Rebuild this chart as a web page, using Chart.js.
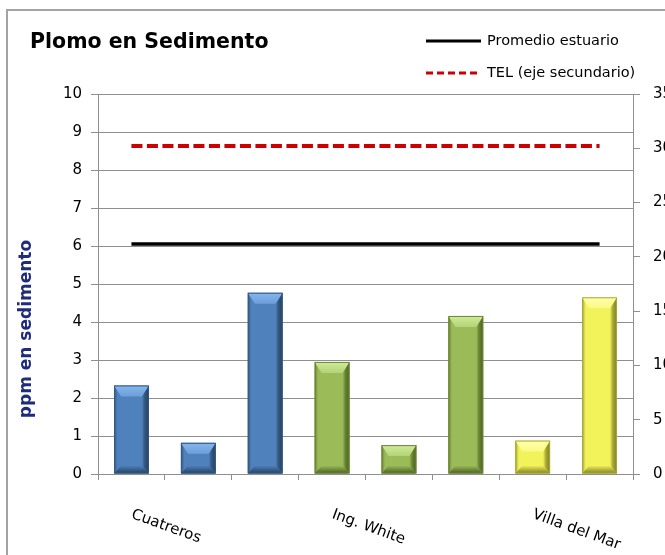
<!DOCTYPE html>
<html>
<head>
<meta charset="utf-8">
<script src="https://cdn.jsdelivr.net/npm/chart.js@4"></script>
<style>
  html, body { margin: 0; padding: 0; background: #fff; overflow: hidden; width: 665px; height: 555px; }
  #frame { position: absolute; left: 6px; top: 9px; border-left: 2px solid #a3a3a3; border-top: 2px solid #a3a3a3; }
  canvas { display: block; }
</style>
</head>
<body>
<div id="frame"><canvas id="myChart" width="700" height="560"></canvas></div>
<script>
// data
const categories = ['Cuatreros', '', '', 'Ing. White', '', '', 'Villa del Mar', ''];
const plomo = [2.33, 0.82, 4.77, 2.95, 0.76, 4.16, 0.88, 4.65];
const sitios = ['Cuatreros', 'Cuatreros', 'Cuatreros', 'Ing. White', 'Ing. White', 'Ing. White', 'Villa del Mar', 'Villa del Mar'];
const promedioEstuario = [6.05, 6.05, 6.05, 6.05, 6.05, 6.05, 6.05, 6.05];
const telSecundario = [30.2, 30.2, 30.2, 30.2, 30.2, 30.2, 30.2, 30.2];
const yTicks = [0, 1, 2, 3, 4, 5, 6, 7, 8, 9, 10];
const y1Ticks = [0, 5, 10, 15, 20, 25, 30, 35];

const FONT = 'DejaVu Sans';

const palette = {
  'Cuatreros':     { main: '#4F81BD', light: '#86B6EE', mid: '#6C9ED9', dark: '#24405F', edge: '#35587F' },
  'Ing. White':    { main: '#9BBB59', light: '#CFEC9A', mid: '#B3D375', dark: '#4A5E22', edge: '#6A8434' },
  'Villa del Mar': { main: '#F2F25A', light: '#FFFFAE', mid: '#FAFA82', dark: '#7E7E26', edge: '#A8A838' }
};

// bevel look on the bars
const bevelPlugin = {
  id: 'bevel',
  afterDatasetDraw(chart, args) {
    if (args.index !== 2) return;
    const ctx = chart.ctx;
    args.meta.data.forEach((bar, i) => {
      const c = palette[sitios[i]];
      const p = bar.getProps(['x', 'y', 'base', 'width'], true);
      const l = p.x - p.width / 2, r = p.x + p.width / 2, t = p.y, b = p.base;
      const h = b - t;
      const sv = 7;
      const tv = Math.min(11, h * 0.4), bv = Math.min(8, h * 0.3);
      ctx.save();
      // right side
      let g = ctx.createLinearGradient(r - sv, 0, r, 0);
      g.addColorStop(0, c.main); g.addColorStop(0.4, c.edge); g.addColorStop(1, c.dark);
      ctx.fillStyle = g;
      ctx.beginPath();
      ctx.moveTo(r, t); ctx.lineTo(r, b); ctx.lineTo(r - sv, b - bv); ctx.lineTo(r - sv, t + tv); ctx.closePath();
      ctx.fill();
      // left side
      g = ctx.createLinearGradient(l, 0, l + sv, 0);
      g.addColorStop(0, c.edge); g.addColorStop(0.5, c.main); g.addColorStop(1, c.main);
      ctx.fillStyle = g;
      ctx.beginPath();
      ctx.moveTo(l, t); ctx.lineTo(l + sv, t + tv); ctx.lineTo(l + sv, b - bv); ctx.lineTo(l, b); ctx.closePath();
      ctx.fill();
      // bottom
      g = ctx.createLinearGradient(0, b - bv, 0, b);
      g.addColorStop(0, c.main); g.addColorStop(1, c.dark);
      ctx.fillStyle = g;
      ctx.beginPath();
      ctx.moveTo(l, b); ctx.lineTo(r, b); ctx.lineTo(r - sv, b - bv); ctx.lineTo(l + sv, b - bv); ctx.closePath();
      ctx.fill();
      // top
      g = ctx.createLinearGradient(0, t, 0, t + tv);
      g.addColorStop(0, c.light); g.addColorStop(1, c.mid);
      ctx.fillStyle = g;
      ctx.beginPath();
      ctx.moveTo(l, t); ctx.lineTo(r, t); ctx.lineTo(r - sv, t + tv); ctx.lineTo(l + sv, t + tv); ctx.closePath();
      ctx.fill();
      // thin outline
      ctx.strokeStyle = c.edge;
      ctx.lineWidth = 1;
      ctx.strokeRect(l + 0.5, t + 0.5, r - l - 1, b - t - 1);
      ctx.restore();
    });
  }
};

// title, legend, axis title and slanted category labels
const textPlugin = {
  id: 'texts',
  afterDraw(chart) {
    const ctx = chart.ctx;
    const xs = chart.scales.x;
    ctx.save();
    ctx.fillStyle = '#000';
    ctx.font = 'bold 20.5px "' + FONT + '"';
    ctx.textAlign = 'left';
    ctx.textBaseline = 'alphabetic';
    ctx.fillText('Plomo en Sedimento', 22, 37);

    // legend
    ctx.lineWidth = 3;
    ctx.strokeStyle = '#000';
    ctx.beginPath(); ctx.moveTo(418, 30); ctx.lineTo(473, 30); ctx.stroke();
    ctx.strokeStyle = '#CC0000';
    ctx.setLineDash([7, 4]);
    ctx.beginPath(); ctx.moveTo(418, 62); ctx.lineTo(473, 62); ctx.stroke();
    ctx.setLineDash([]);
    ctx.font = '14.5px "' + FONT + '"';
    ctx.textBaseline = 'middle';
    ctx.fillText('Promedio estuario', 479, 30);
    ctx.fillText('TEL (eje secundario)', 479, 62);

    // y axis title
    ctx.save();
    ctx.translate(19, 318);
    ctx.rotate(-Math.PI / 2);
    ctx.textAlign = 'center';
    ctx.fillStyle = '#1F2C7C';
    ctx.font = 'bold 17px "' + FONT + '"';
    ctx.fillText('ppm en sedimento', 0, 0);
    ctx.restore();

    // category labels, slanted down
    ctx.font = '15px "' + FONT + '"';
    ctx.textBaseline = 'top';
    categories.forEach((lab, i) => {
      if (!lab) return;
      ctx.save();
      ctx.translate(xs.getPixelForValue(i) + 3, xs.top + 33);
      ctx.rotate(20 * Math.PI / 180);
      ctx.fillText(lab, 0, 0);
      ctx.restore();
    });
    ctx.restore();
  }
};

const data = {
  labels: categories,
  datasets: [
    {
      type: 'line',
      label: 'Promedio estuario',
      data: promedioEstuario,
      yAxisID: 'y',
      borderColor: '#000',
      borderWidth: 3.5,
      pointRadius: 0,
      order: 1
    },
    {
      type: 'line',
      label: 'TEL (eje secundario)',
      data: telSecundario,
      yAxisID: 'y1',
      borderColor: '#CC0000',
      borderWidth: 4,
      borderDash: [11, 4.5],
      pointRadius: 0,
      order: 1
    },
    {
      type: 'bar',
      label: 'Plomo',
      data: plomo,
      yAxisID: 'y',
      backgroundColor: sitios.map(s => palette[s].main),
      borderWidth: 0,
      barPercentage: 0.52,
      categoryPercentage: 1,
      order: 2
    }
  ]
};

const gridColor = '#8f8f8f';

const config = {
  type: 'bar',
  data: data,
  options: {
    responsive: false,
    animation: false,
    layout: { padding: { top: 83, left: 0, right: 0, bottom: 0 } },
    plugins: { legend: { display: false }, tooltip: { enabled: false } },
    scales: {
      x: {
        offset: true,
        grid: { offset: true, drawOnChartArea: false, drawTicks: true, tickLength: 6, color: gridColor },
        border: { color: gridColor },
        ticks: { display: false, autoSkip: false },
        afterFit: s => { s.height = 97; }
      },
      y: {
        position: 'left',
        min: 0,
        max: 10,
        afterBuildTicks: s => { s.ticks = yTicks.map(v => ({ value: v })); },
        grid: { color: gridColor, tickLength: 7 },
        border: { color: gridColor },
        ticks: { color: '#000', font: { family: FONT, size: 15 }, padding: 9 },
        afterFit: s => { s.width = 90; }
      },
      y1: {
        position: 'right',
        min: 0,
        max: 35,
        afterBuildTicks: s => { s.ticks = y1Ticks.map(v => ({ value: v })); },
        grid: { drawOnChartArea: false, color: gridColor, tickLength: 7 },
        border: { color: gridColor },
        ticks: { color: '#000', font: { family: FONT, size: 15 }, padding: 13 },
        afterFit: s => { s.width = 75; }
      }
    }
  },
  plugins: [bevelPlugin, textPlugin]
};

const myChart = new Chart(document.getElementById('myChart'), config);
</script>
</body>
</html>
